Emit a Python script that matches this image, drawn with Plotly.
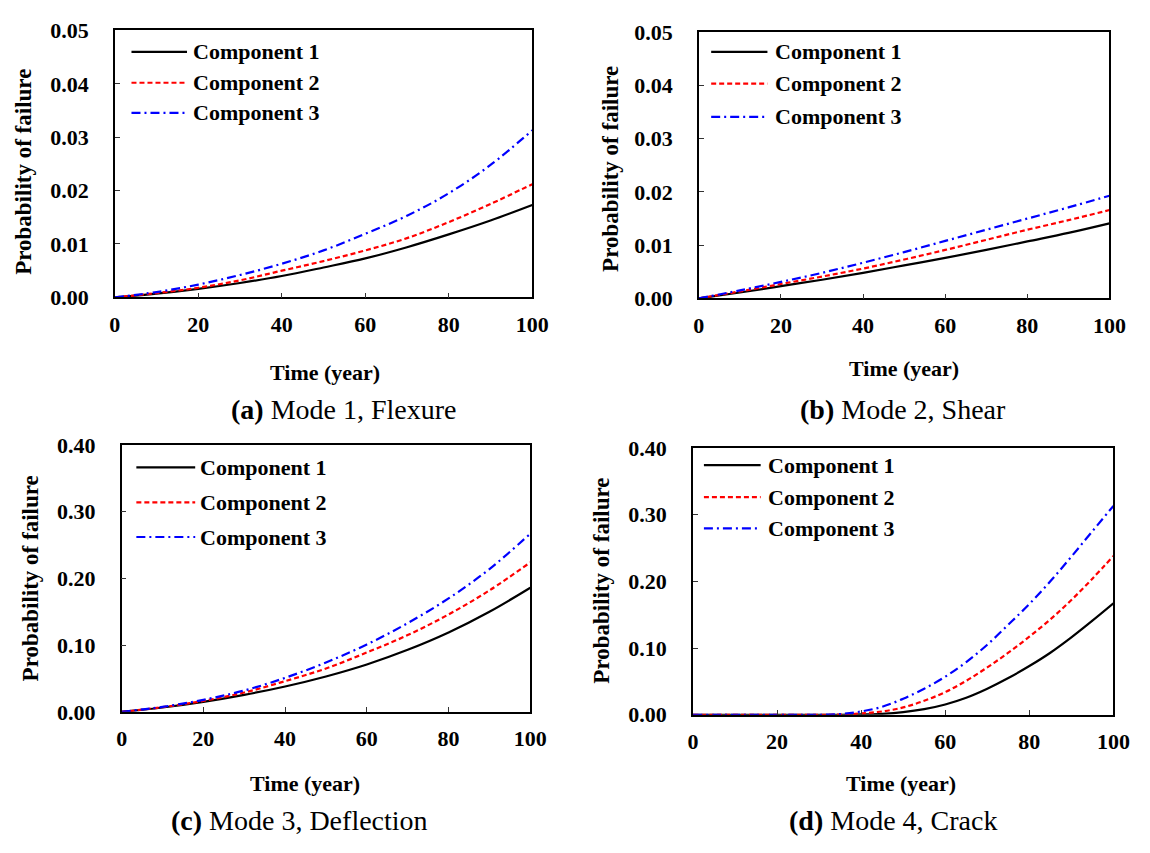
import plotly.graph_objects as go

W, H = 1150, 853

# ---------------- data ----------------
years10 = [0, 10, 20, 30, 40, 50, 60, 70, 80, 90, 100]
years5 = [0, 5, 10, 15, 20, 25, 30, 35, 40, 45, 50, 55, 60, 65, 70, 75, 80, 85, 90, 95, 100]

flex_c1 = [0, 0.0007, 0.0016, 0.0027, 0.0040, 0.0056, 0.0073, 0.0094, 0.0118, 0.0144, 0.0173]
flex_c2 = [0, 0.0008, 0.0018, 0.0032, 0.0050, 0.0068, 0.0088, 0.0111, 0.0141, 0.0175, 0.0212]
flex_c3 = [0, 0.0010, 0.0024, 0.0042, 0.0063, 0.0088, 0.0119, 0.0153, 0.0195, 0.0248, 0.0313]

shear_c1 = [0, 0.0011, 0.0023, 0.0035, 0.0048, 0.0062, 0.0076, 0.0091, 0.0107, 0.0123, 0.0141]
shear_c2 = [0, 0.0013, 0.0027, 0.0041, 0.0056, 0.0073, 0.0091, 0.0110, 0.0129, 0.0147, 0.0166]
shear_c3 = [0, 0.0015, 0.0031, 0.0048, 0.0067, 0.0087, 0.0108, 0.0129, 0.0150, 0.0171, 0.0193]

defl_c1 = [0, 0.0065, 0.0150, 0.0255, 0.0380, 0.0530, 0.0710, 0.0930, 0.1190, 0.1500, 0.1860]
defl_c2 = [0, 0.0070, 0.0165, 0.0290, 0.0460, 0.0650, 0.0890, 0.1150, 0.1460, 0.1820, 0.2240]
defl_c3 = [0, 0.0075, 0.0180, 0.0320, 0.0510, 0.0740, 0.1010, 0.1330, 0.1700, 0.2140, 0.2670]

crack_c1 = [0, 0, 0, 0, 0, 0, 0, 0, 0.0005, 0.0015, 0.004, 0.0085, 0.0155, 0.0255, 0.039, 0.055, 0.073, 0.093, 0.116, 0.141, 0.167]
crack_c2 = [0, 0, 0, 0, 0, 0, 0, 0.0003, 0.002, 0.005, 0.011, 0.021, 0.034, 0.051, 0.071, 0.093, 0.117, 0.143, 0.172, 0.204, 0.238]
crack_c3 = [0, 0, 0, 0, 0, 0, 0, 0.001, 0.005, 0.012, 0.024, 0.039, 0.057, 0.079, 0.105, 0.135, 0.166, 0.200, 0.237, 0.275, 0.313]

series_names = ["Component 1", "Component 2", "Component 3"]
x_ticks = [0, 20, 40, 60, 80, 100]
y_ticks_small = [0, 0.01, 0.02, 0.03, 0.04, 0.05]
y_ticks_large = [0, 0.1, 0.2, 0.3, 0.4]
captions = ["<b>(a)</b> Mode 1, Flexure", "<b>(b)</b> Mode 2, Shear",
            "<b>(c)</b> Mode 3, Deflection", "<b>(d)</b> Mode 4, Crack"]
x_title = "Time (year)"
y_title = "Probability of failure"

# ---------------- styling ----------------
FONT = "Liberation Serif, Times New Roman, serif"
colors = ["black", "red", "blue"]
dashes = ["solid", "5px,3px", "9px,4px,2px,4px"]
widths = [2.2, 2.2, 2.2]
TICK_SIZE = 22
LEG_SIZE = 22
TITLE_SIZE = 22
YTITLE_SIZE = 23
CAP_SIZE = 28


def px(x):
    return x / W


def py(y):
    return 1 - y / H


# plot boxes in pixel coordinates (left, right, top, bottom)
boxes = [(111, 537, 19, 294), (707, 1126, 21, 295), (118, 535, 446, 721), (701, 1130, 449, 724)]

panels = [
    (years10, [flex_c1, flex_c2, flex_c3], [0, 0.05], y_ticks_small),
    (years10, [shear_c1, shear_c2, shear_c3], [0, 0.05], y_ticks_small),
    (years10, [defl_c1, defl_c2, defl_c3], [0, 0.4], y_ticks_large),
    (years5, [crack_c1, crack_c2, crack_c3], [0, 0.4], y_ticks_large),
]

fig = go.Figure()
layout = dict(
    width=W, height=H,
    margin=dict(l=0, r=0, t=0, b=0),
    paper_bgcolor="white", plot_bgcolor="white",
    showlegend=False,
    font=dict(family=FONT, color="black"),
)

annotations = []
shapes = []

# legend placement per panel: (x0, x1, text_x) in domain fraction, row y fractions
legend_specs = [
    (0.04, 0.173, 0.183, [0.92, 0.804, 0.691]),
    (0.03, 0.167, 0.181, [0.927, 0.807, 0.682]),
    (0.036, 0.18, 0.188, [0.916, 0.785, 0.655]),
    (0.026, 0.161, 0.174, [0.935, 0.815, 0.698]),
]

xtitle_pos = [(325, 371), (916, 367), (305, 795), (913, 795)]
ytitle_pos = [(18, 165), (617, 162), (25, 584), (608, 586)]
caption_pos = [(345, 410), (915, 410), (299, 833), (905, 833)]

for i, ((xs, ys_list, yrange, yticks), box) in enumerate(zip(panels, boxes)):
    n = "" if i == 0 else str(i + 1)
    l, r, t, b = box
    for j, ys in enumerate(ys_list):
        fig.add_trace(go.Scatter(
            x=xs, y=ys, mode="lines", name=series_names[j],
            line=dict(color=colors[j], dash=dashes[j], width=widths[j], shape="spline", smoothing=1.0),
            xaxis="x" + n, yaxis="y" + n,
        ))
    axis_common = dict(
        showline=True, linecolor="black", linewidth=1.5, mirror=True,
        ticks="inside", ticklen=5, tickwidth=1, tickcolor="#333",
        showgrid=False, zeroline=False,
        tickfont=dict(family=FONT, size=TICK_SIZE, color="black", weight="bold"),
    )
    layout["xaxis" + n] = dict(
        axis_common, domain=[px(l), px(r)], range=[0, 100],
        tickvals=x_ticks, anchor="y" + n, ticklabelstandoff=6,
    )
    layout["yaxis" + n] = dict(
        axis_common, domain=[py(b), py(t)], range=yrange,
        tickvals=yticks, tickformat=".2f", anchor="x" + n, ticklabelstandoff=20,
    )
    # legend
    x0, x1, tx, rows = legend_specs[i]
    for j in range(3):
        shapes.append(dict(
            type="line", xref="x" + n + " domain", yref="y" + n + " domain",
            x0=x0, x1=x1, y0=rows[j], y1=rows[j],
            line=dict(color=colors[j], dash=dashes[j], width=widths[j]),
        ))
        annotations.append(dict(
            xref="x" + n + " domain", yref="y" + n + " domain",
            x=tx, y=rows[j], text="<b>" + series_names[j] + "</b>", showarrow=False,
            xanchor="left", yanchor="middle",
            font=dict(family=FONT, size=LEG_SIZE, color="black"),
        ))
    # axis titles
    annotations.append(dict(
        xref="paper", yref="paper", x=px(xtitle_pos[i][0]), y=py(xtitle_pos[i][1]),
        text="<b>" + x_title + "</b>", showarrow=False, xanchor="center", yanchor="middle",
        font=dict(family=FONT, size=TITLE_SIZE, color="black"),
    ))
    annotations.append(dict(
        xref="paper", yref="paper", x=px(ytitle_pos[i][0]), y=py(ytitle_pos[i][1]),
        text="<b>" + y_title + "</b>", showarrow=False, xanchor="center", yanchor="middle",
        textangle=-90, font=dict(family=FONT, size=YTITLE_SIZE, color="black"),
    ))
    annotations.append(dict(
        xref="paper", yref="paper", x=px(caption_pos[i][0]), y=py(caption_pos[i][1]),
        text=captions[i], showarrow=False, xanchor="center", yanchor="middle",
        font=dict(family=FONT, size=CAP_SIZE, color="black"),
    ))

layout["annotations"] = annotations
layout["shapes"] = shapes
fig.update_layout(**layout)
fig.write_html("out.html")
